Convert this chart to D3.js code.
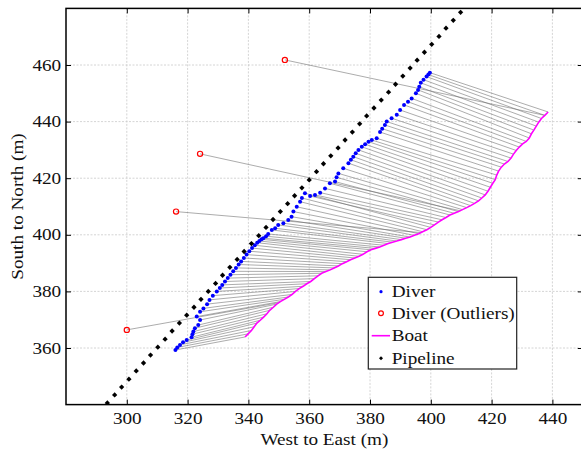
<!DOCTYPE html>
<html>
<head>
<meta charset="utf-8">
<script src="https://cdn.jsdelivr.net/npm/d3@7"></script>
<style>
  body { margin: 0; background: #fff; }
  svg { display: block; }
  text { font-family: "Liberation Serif", "Times New Roman", serif; fill: #111; }
</style>
</head>
<body>
<svg id="chart" width="581" height="453"></svg>
<script>
// Tick values on each axis
const xTicks = [300, 320, 340, 360, 380, 400, 420, 440];
const yTicks = [360, 380, 400, 420, 440, 460];

// Diver track (West–East, South–North, metres), one fix per time step
const diverX = [316.0, 316.6, 317.5, 318.5, 319.7, 321.3, 321.6, 321.9, 322.4, 323.5,
  324.1, 323.0, 324.1, 325.2, 326.4, 327.2, 328.3, 329.6, 330.6, 331.4,
  332.3, 333.2, 334.1, 335.0, 335.9, 336.8, 337.6, 338.5, 339.4, 340.3,
  341.2, 342.1, 342.9, 343.6, 344.3, 344.9, 345.8, 346.5, 347.7, 348.8,
  349.8, 351.5, 353.1, 354.2, 354.8, 355.9, 357.0, 357.6, 358.6, 360.3,
  361.9, 363.6, 365.2, 366.8, 368.5, 369.0, 369.6, 371.2, 372.9, 373.7,
  374.5, 375.3, 376.2, 377.3, 378.4, 379.5, 380.6, 382.2, 383.3, 384.0,
  384.9, 385.5, 387.1, 388.8, 389.9, 391.2, 392.5, 393.7, 395.1, 395.8,
  396.2, 396.7, 397.6, 398.6, 399.2, 399.7];
const diverY = [359.3, 360.2, 361.1, 362.0, 362.8, 363.8, 364.9, 365.8, 367.0, 368.1,
  369.9, 371.1, 372.8, 374.0, 375.5, 377.0, 378.5, 380.0, 381.2, 382.3,
  383.5, 384.7, 385.9, 387.1, 388.3, 389.5, 390.6, 391.8, 393.0, 394.2,
  395.3, 396.3, 397.2, 397.8, 398.4, 398.8, 399.5, 400.3, 401.7, 402.3,
  403.5, 404.1, 405.2, 406.4, 408.2, 409.9, 411.7, 413.0, 414.7, 413.7,
  414.1, 414.9, 416.4, 418.2, 418.8, 420.3, 421.7, 423.5, 425.3, 426.5,
  427.6, 428.8, 430.0, 431.1, 432.0, 432.9, 433.5, 434.1, 436.3, 437.5,
  438.8, 440.0, 441.2, 442.4, 444.1, 445.9, 447.0, 448.2, 450.0, 451.2,
  452.3, 453.7, 454.8, 455.9, 456.6, 457.3];

// Boat track at the same time steps
const boatX = [338.9, 339.9, 341.0, 341.9, 342.8, 343.9, 345.0, 346.1, 347.0, 348.2,
  349.3, 350.5, 351.8, 353.1, 354.3, 355.5, 356.7, 358.0, 359.2, 360.5,
  361.7, 362.9, 364.1, 365.5, 366.9, 368.2, 369.6, 370.9, 372.3, 373.6,
  375.0, 376.4, 377.7, 379.0, 380.3, 381.7, 383.2, 384.6, 386.0, 387.4,
  388.8, 390.3, 391.7, 393.2, 394.6, 396.0, 397.3, 398.7, 400.0, 401.2,
  402.5, 403.7, 405.0, 406.3, 407.7, 409.1, 410.4, 411.8, 413.1, 414.4,
  415.7, 416.8, 417.9, 418.8, 419.6, 420.4, 421.2, 421.7, 422.3, 423.2,
  424.2, 425.4, 426.4, 427.2, 428.1, 429.1, 430.2, 431.4, 432.4, 433.1,
  433.9, 434.7, 435.5, 436.4, 437.5, 438.6];
const boatY = [363.9, 365.0, 366.2, 367.5, 368.8, 369.8, 370.9, 372.1, 373.3, 374.4,
  375.5, 376.4, 377.2, 378.0, 378.9, 380.0, 381.0, 381.8, 382.7, 383.5,
  384.5, 385.5, 386.4, 387.0, 387.6, 388.3, 389.0, 389.8, 390.5, 391.2,
  391.8, 392.4, 393.1, 394.0, 394.7, 395.2, 395.7, 396.3, 396.9, 397.4,
  397.8, 398.3, 398.8, 399.2, 399.8, 400.4, 401.1, 401.8, 402.6, 403.5,
  404.5, 405.3, 406.1, 407.0, 407.6, 408.2, 408.9, 409.6, 410.3, 411.1,
  412.0, 413.0, 414.1, 415.4, 416.8, 418.2, 419.5, 421.1, 422.5, 423.9,
  425.0, 425.9, 427.1, 428.5, 429.8, 431.0, 432.1, 433.0, 434.2, 435.7,
  437.0, 438.4, 439.8, 441.1, 442.2, 443.4];

// Rejected diver fixes and the boat position at the same instant
const outlierX = [300.0, 316.2, 324.1, 352.0];
const outlierY = [366.4, 408.2, 428.6, 461.8];
const outlierBoatX = [350.0, 396.6, 409.7, 437.5];
const outlierBoatY = [376.0, 400.8, 408.5, 442.2];

// Surveyed pipeline markers
const pipeX = [293.6, 296.0, 298.3, 300.7, 303.1, 305.5, 307.8, 310.2, 312.6, 314.9,
  317.3, 319.7, 322.1, 324.4, 326.8, 329.2, 331.5, 333.9, 336.3, 338.6,
  341.0, 343.4, 345.8, 348.1, 350.5, 352.9, 355.2, 357.6, 360.0, 362.4,
  364.7, 367.1, 369.5, 371.8, 374.2, 376.6, 378.9, 381.3, 383.7, 386.1,
  388.4, 390.8, 393.2, 395.5, 397.9, 400.3, 402.7, 405.0, 407.4, 409.8];
const pipeY = [340.6, 343.4, 346.2, 349.0, 351.9, 354.7, 357.5, 360.3, 363.1, 366.0,
  368.8, 371.6, 374.4, 377.2, 380.0, 382.8, 385.7, 388.5, 391.3, 394.1,
  396.9, 399.7, 402.6, 405.4, 408.2, 411.0, 413.8, 416.6, 419.4, 422.3,
  425.1, 427.9, 430.7, 433.5, 436.3, 439.2, 442.0, 444.8, 447.6, 450.4,
  453.2, 456.1, 458.9, 461.7, 464.5, 467.3, 470.1, 473.0, 475.8, 478.6];

const legendItems = ["Diver", "Diver (Outliers)", "Boat", "Pipeline"];

const svg = d3.select("#chart");
const plotL = 66, plotR = 582.8, plotT = 8.4, plotB = 404.6;
const x = d3.scaleLinear().domain([280, 450]).range([plotL, plotR]);
const y = d3.scaleLinear().domain([340, 480]).range([plotB, plotT]);
const STRETCH = "scale(1.2,1)";

svg.append("rect").attr("width", 581).attr("height", 453).attr("fill", "#fff");

// grid
const grid = svg.append("g").attr("stroke", "#c9c9c9").attr("stroke-width", 0.8)
  .attr("stroke-dasharray", "2,1.5");
grid.selectAll(".gx").data(xTicks).join("line")
  .attr("x1", d => x(d)).attr("x2", d => x(d)).attr("y1", plotT).attr("y2", plotB);
grid.selectAll(".gy").data(yTicks).join("line")
  .attr("y1", d => y(d)).attr("y2", d => y(d)).attr("x1", plotL).attr("x2", plotR);

// clip to the plot box
svg.append("clipPath").attr("id", "plot").append("rect")
  .attr("x", plotL).attr("y", plotT).attr("width", plotR - plotL).attr("height", plotB - plotT);
const plot = svg.append("g").attr("clip-path", "url(#plot)");

// diver-to-boat connectors
const links = plot.append("g").attr("stroke", "#6a6a6a").attr("stroke-width", 0.7)
  .attr("stroke-opacity", 0.8);
links.selectAll(".l").data(diverX).join("line")
  .attr("x1", (d, i) => x(diverX[i])).attr("y1", (d, i) => y(diverY[i]))
  .attr("x2", (d, i) => x(boatX[i])).attr("y2", (d, i) => y(boatY[i]));
links.selectAll(".lo").data(outlierX).join("line")
  .attr("x1", (d, i) => x(outlierX[i])).attr("y1", (d, i) => y(outlierY[i]))
  .attr("x2", (d, i) => x(outlierBoatX[i])).attr("y2", (d, i) => y(outlierBoatY[i]));

// boat track
const boatLine = d3.line().x((d, i) => x(boatX[i])).y((d, i) => y(boatY[i]));
plot.append("path").datum(boatX).attr("d", boatLine)
  .attr("fill", "none").attr("stroke", "#ff00ff").attr("stroke-width", 1.6);

// diver fixes
plot.append("g").attr("fill", "#0000ff").selectAll("circle").data(diverX).join("circle")
  .attr("cx", (d, i) => x(diverX[i])).attr("cy", (d, i) => y(diverY[i])).attr("r", 2);

// outliers
plot.append("g").attr("fill", "none").attr("stroke", "#ff0000").attr("stroke-width", 1.2)
  .selectAll("circle").data(outlierX).join("circle")
  .attr("cx", (d, i) => x(outlierX[i])).attr("cy", (d, i) => y(outlierY[i])).attr("r", 2.6);

// pipeline markers (small square set on its corner)
const marker = d3.symbol().type(d3.symbolSquare).size(14);
plot.append("g").attr("fill", "#000").selectAll("path").data(pipeX).join("path")
  .attr("d", marker)
  .attr("transform", (d, i) => `translate(${x(pipeX[i])},${y(pipeY[i])}) rotate(45)`);

// axes (inward ticks on all four sides)
function styleAxis(g) {
  g.select(".domain").remove();
  g.selectAll(".tick line").attr("stroke", "#000").attr("stroke-width", 1);
  g.selectAll(".tick text").attr("font-size", 16).attr("fill", "#111")
    .attr("font-family", "Liberation Serif, Times New Roman, serif");
}
svg.append("g").attr("transform", `translate(0,${plotB})`)
  .call(d3.axisBottom(x).tickValues(xTicks).tickSize(-5).tickPadding(8))
  .call(styleAxis)
  .call(g => g.selectAll(".tick text").attr("transform", STRETCH));
svg.append("g").attr("transform", `translate(0,${plotT})`)
  .call(d3.axisTop(x).tickValues(xTicks).tickSize(-5).tickFormat(""))
  .call(styleAxis);
svg.append("g").attr("transform", `translate(${plotL},0)`)
  .call(d3.axisLeft(y).tickValues(yTicks).tickSize(-5).tickPadding(4))
  .call(styleAxis)
  .call(g => g.selectAll(".tick text").attr("transform", STRETCH));
svg.append("g").attr("transform", `translate(${plotR},0)`)
  .call(d3.axisRight(y).tickValues(yTicks).tickSize(-5).tickFormat(""))
  .call(styleAxis);

// frame
svg.append("rect").attr("x", plotL).attr("y", plotT)
  .attr("width", plotR - plotL).attr("height", plotB - plotT)
  .attr("fill", "none").attr("stroke", "#000").attr("stroke-width", 1.5);

// axis titles
svg.append("text").attr("text-anchor", "middle").attr("font-size", 16)
  .attr("transform", `translate(${(plotL + plotR) / 2},445) ${STRETCH}`)
  .text("West to East (m)");
svg.append("text").attr("text-anchor", "middle").attr("font-size", 16)
  .attr("transform", `translate(22.5,${(plotT + plotB) / 2}) rotate(-90) ${STRETCH}`)
  .text("South to North (m)");

// legend
const lg = svg.append("g").attr("transform", "translate(368.3,277.3)");
lg.append("rect").attr("width", 148.4).attr("height", 91.7)
  .attr("fill", "#fff").attr("stroke", "#222").attr("stroke-width", 1.2);
const rowY = [14.4, 36, 58.4, 81];
lg.append("circle").attr("cx", 12.7).attr("cy", rowY[0]).attr("r", 1.6).attr("fill", "#0000ff");
lg.append("circle").attr("cx", 12.7).attr("cy", rowY[1]).attr("r", 2.4)
  .attr("fill", "none").attr("stroke", "#ff0000").attr("stroke-width", 1.2);
lg.append("line").attr("x1", 3.4).attr("x2", 21.7).attr("y1", rowY[2]).attr("y2", rowY[2])
  .attr("stroke", "#ff00ff").attr("stroke-width", 1.6);
lg.append("path").attr("d", d3.symbol().type(d3.symbolSquare).size(8))
  .attr("transform", `translate(12.7,${rowY[3]}) rotate(45)`).attr("fill", "#000");
lg.selectAll(".lt").data(legendItems).join("text")
  .attr("font-size", 16).attr("dy", "0.35em")
  .attr("transform", (d, i) => `translate(23.4,${rowY[i]}) ${STRETCH}`)
  .text(d => d);
</script>
</body>
</html>
